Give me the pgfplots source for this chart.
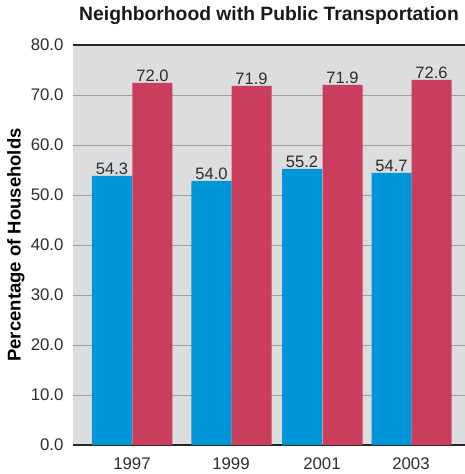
\documentclass[border=0pt]{standalone}
\usepackage{fontspec}
\setmainfont{Liberation Sans}
\usepackage{pgfplots}
\pgfplotsset{compat=1.18}
\definecolor{bgc}{RGB}{220,221,223}
\definecolor{gridc}{RGB}{160,160,160}
\definecolor{bluec}{RGB}{0,150,216}
\definecolor{redc}{RGB}{200,62,92}
\definecolor{txt}{RGB}{45,45,45}
\begin{document}
\begin{tikzpicture}
\path[use as bounding box] (-73pt,-29pt) rectangle (392pt,445pt);
\begin{axis}[
  at={(0pt,0pt)}, anchor=origin,
  scale only axis, width=392pt, height=400pt,
  xmin=0, xmax=392, ymin=0, ymax=80,
  separate axis lines,
  axis x line*=box,
  y axis line style={draw=none},
  x axis line style={draw=black!85, line width=1.6pt},
  axis background/.style={fill=bgc},
  ymajorgrids, major grid style={draw=gridc, line width=0.9pt},
  ytick={0,10,...,80},
  xtick={59,158,249,338},
  xticklabels={1997,1999,2001,2003},
  major tick length=0pt,
  /pgf/number format/assume math mode=true,
  yticklabel style={/pgf/number format/fixed, /pgf/number format/fixed zerofill, /pgf/number format/precision=1, xshift=-6pt},
  ticklabel style={font=\fontsize{16.8}{18}\selectfont, text=txt},
  xticklabel style={yshift=-9pt},
  ylabel={\textbf{Percentage of Households}},
  ylabel style={font=\fontsize{18.5}{20}\selectfont, text=black, at={(axis description cs:0,0.5)}, yshift=57pt, anchor=center},
  title={\textbf{Neighborhood with Public Transportation}},
  title style={font=\fontsize{19.3}{21}\selectfont, text=black!90, at={(axis description cs:0.5,1)}, anchor=base, yshift=18pt},
  ybar, bar width=40, bar shift=0pt,
  nodes near coords,
  point meta=explicit symbolic,
  every node near coord/.append style={font=\fontsize{16.5}{18}\selectfont, text=txt, inner sep=1pt, anchor=south},
  clip=false,
]
\addplot[fill=bluec, draw=none] table[meta=lab] {
x y lab
39 53.8 54.3
138.5 52.8 54.0
229 55.2 55.2
318.5 54.4 54.7
};
\addplot[fill=redc, draw=none] table[meta=lab] {
x y lab
79.5 72.4 72.0
178.5 71.8 71.9
269.5 72.0 71.9
358.5 73.0 72.6
};
\end{axis}
\end{tikzpicture}
\end{document}
